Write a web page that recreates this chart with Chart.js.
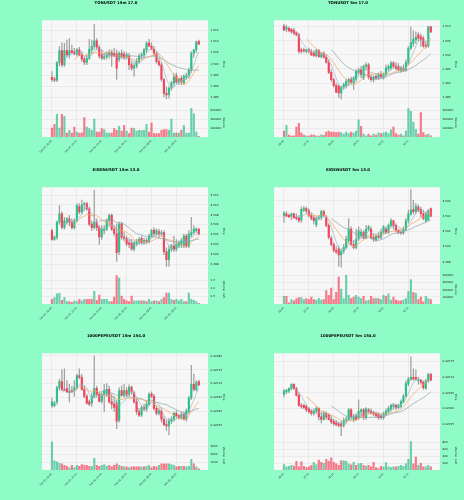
<!DOCTYPE html>
<html>
<head>
<meta charset="utf-8">
<script src="https://cdn.jsdelivr.net/npm/chart.js@4.4.1/dist/chart.umd.min.js"></script>
<style>
html, body { margin: 0; padding: 0; background: #8ffcc8; }
body { width: 464px; height: 500px; position: relative; overflow: hidden; }
canvas { position: absolute; }
</style>
</head>
<body>
<script>
// x tick labels (every 10th candle)
const xTickIdx = [0, 10, 20, 30, 40, 50];
const labels15m = ['Dec 01, 20:45', 'Dec 01, 23:15', 'Dec 02, 01:45', 'Dec 02, 04:15', 'Dec 02, 06:45', 'Dec 02, 09:15'];
const labels5m = ['06:45', '07:35', '08:25', '09:15', '10:05', '10:55'];

// TONUSDT 15m
const tonM15Open = [1.4940,1.4932,1.4927,1.5006,1.5059,1.4996,1.5059,1.5040,1.5059,1.5053,1.5044,1.5062,1.5040,1.5021,1.5006,1.5025,1.5062,1.5077,1.5103,1.5074,1.5040,1.5025,1.5032,1.5040,1.5050,1.5047,1.5044,1.5021,1.5047,1.5044,1.5029,1.5035,1.4996,1.4981,1.4991,1.5010,1.5035,1.5040,1.5062,1.5094,1.5079,1.5065,1.5044,1.5010,1.4996,1.4930,1.4868,1.4863,1.4891,1.4915,1.4947,1.4918,1.4935,1.4915,1.4941,1.4947,1.4971,1.5047,1.5062,1.5100];
const tonM15High = [1.4966,1.4941,1.5010,1.5077,1.5094,1.5091,1.5106,1.5113,1.5084,1.5069,1.5069,1.5074,1.5054,1.5032,1.5040,1.5109,1.5106,1.5176,1.5113,1.5084,1.5062,1.5047,1.5054,1.5062,1.5062,1.5069,1.5062,1.5054,1.5062,1.5054,1.5050,1.5047,1.5010,1.5003,1.5025,1.5044,1.5050,1.5069,1.5099,1.5109,1.5094,1.5077,1.5054,1.5025,1.5006,1.4937,1.4897,1.4900,1.4922,1.4956,1.4959,1.4937,1.4947,1.4952,1.4959,1.4981,1.5054,1.5065,1.5103,1.5106];
const tonM15Low = [1.4922,1.4921,1.4921,1.4991,1.4988,1.4988,1.5032,1.5025,1.5047,1.5040,1.5035,1.5035,1.5010,1.4996,1.4996,1.5018,1.5047,1.5065,1.5062,1.5025,1.5018,1.5018,1.5021,1.5025,1.4988,1.5032,1.4930,1.5010,1.5025,1.5018,1.5021,1.4974,1.4971,1.4944,1.4981,1.5003,1.5021,1.5032,1.5050,1.5077,1.5062,1.5035,1.5003,1.4988,1.4922,1.4853,1.4844,1.4847,1.4882,1.4903,1.4912,1.4907,1.4907,1.4907,1.4930,1.4937,1.4962,1.5029,1.5050,1.5085];
const tonM15Close = [1.4930,1.4927,1.5006,1.5059,1.4996,1.5059,1.5040,1.5059,1.5050,1.5044,1.5062,1.5040,1.5021,1.5006,1.5025,1.5065,1.5077,1.5103,1.5074,1.5035,1.5025,1.5032,1.5040,1.5050,1.5035,1.5035,1.4981,1.5047,1.5032,1.5029,1.5040,1.4996,1.4981,1.4991,1.5010,1.5035,1.5040,1.5062,1.5091,1.5079,1.5065,1.5047,1.5010,1.4996,1.4930,1.4868,1.4862,1.4891,1.4915,1.4941,1.4918,1.4932,1.4918,1.4944,1.4947,1.4971,1.5047,1.5062,1.5097,1.5088];
const tonM15Vol = [200000,281000,503000,200000,503000,459000,89000,148000,89000,222000,111000,89000,89000,430000,222000,185000,148000,400000,111000,111000,185000,163000,89000,89000,89000,185000,148000,237000,133000,259000,133000,74000,200000,185000,133000,148000,148000,148000,281000,111000,311000,74000,74000,74000,148000,163000,163000,148000,400000,89000,89000,89000,148000,252000,89000,89000,640000,518000,111000,15000];
const tonM15PriceTicks = [1.485, 1.490, 1.495, 1.500, 1.505, 1.510, 1.515];
const tonM15VolTicks = [200000, 400000, 600000];

// TONUSDT 5m
const tonM5Open = [1.5102,1.5091,1.5094,1.5091,1.5088,1.5079,1.5071,1.5018,1.5018,1.5012,1.5018,1.5012,1.5006,1.4997,1.5015,1.4994,1.5006,1.4992,1.4973,1.4938,1.4912,1.4891,1.4889,1.4865,1.4886,1.4891,1.4903,1.4912,1.4900,1.4914,1.4938,1.4947,1.4918,1.4959,1.4965,1.4921,1.4912,1.4924,1.4918,1.4930,1.4921,1.4930,1.4950,1.4953,1.4971,1.4961,1.4959,1.4945,1.4953,1.4947,1.4971,1.5024,1.5041,1.5053,1.5071,1.5065,1.5059,1.5035,1.5032,1.5100];
const tonM5High = [1.5109,1.5106,1.5100,1.5094,1.5094,1.5082,1.5077,1.5024,1.5024,1.5020,1.5024,1.5020,1.5015,1.5020,1.5020,1.5009,1.5012,1.5000,1.4983,1.4947,1.4918,1.4900,1.4895,1.4889,1.4900,1.4914,1.4918,1.4921,1.4924,1.4947,1.4953,1.4959,1.4965,1.4973,1.4971,1.4930,1.4926,1.4933,1.4936,1.4942,1.4936,1.4965,1.4965,1.4977,1.4977,1.4973,1.4969,1.4959,1.4965,1.4983,1.5030,1.5100,1.5086,1.5082,1.5079,1.5074,1.5067,1.5047,1.5102,1.5102];
const tonM5Low = [1.5086,1.5082,1.5082,1.5077,1.5071,1.5067,1.5006,1.5006,1.5009,1.5006,1.5006,1.4997,1.4994,1.4992,1.4992,1.4988,1.4988,1.4971,1.4933,1.4906,1.4886,1.4865,1.4848,1.4844,1.4877,1.4883,1.4891,1.4895,1.4877,1.4906,1.4930,1.4918,1.4912,1.4947,1.4914,1.4906,1.4903,1.4912,1.4912,1.4918,1.4914,1.4924,1.4942,1.4947,1.4953,1.4947,1.4942,1.4938,1.4942,1.4942,1.4965,1.5018,1.5030,1.5041,1.5051,1.5030,1.5027,1.5024,1.5027,1.5079];
const tonM5Close = [1.5088,1.5098,1.5086,1.5082,1.5077,1.5071,1.5012,1.5012,1.5014,1.5018,1.5012,1.5000,1.4997,1.5015,1.4994,1.5004,1.4992,1.4973,1.4938,1.4912,1.4891,1.4868,1.4865,1.4886,1.4895,1.4906,1.4912,1.4903,1.4918,1.4942,1.4947,1.4930,1.4959,1.4965,1.4921,1.4912,1.4921,1.4918,1.4930,1.4921,1.4933,1.4953,1.4959,1.4971,1.4959,1.4953,1.4947,1.4953,1.4945,1.4973,1.5024,1.5044,1.5055,1.5062,1.5059,1.5053,1.5032,1.5030,1.5100,1.5082];
const tonM5Vol = [68000,132000,21000,11000,14000,111000,154000,46000,21000,14000,11000,25000,21000,14000,11000,25000,18000,57000,68000,57000,57000,50000,57000,50000,32000,57000,39000,57000,43000,68000,193000,121000,32000,14000,32000,14000,32000,21000,46000,39000,46000,57000,39000,82000,111000,39000,21000,32000,14000,68000,321000,289000,168000,86000,32000,275000,50000,21000,32000,14000];
const tonM5PriceTicks = [1.485, 1.490, 1.495, 1.500, 1.505, 1.510];
const tonM5VolTicks = [100000, 200000, 300000];

// EIGENUSDT 15m
const eigenM15Open = [3.5048,3.5030,3.5034,3.5065,3.5082,3.5054,3.5065,3.5072,3.5065,3.5054,3.5068,3.5097,3.5086,3.5101,3.5103,3.5092,3.5061,3.5054,3.5065,3.5054,3.5035,3.5048,3.5051,3.5068,3.5079,3.5051,3.5042,3.5005,3.5061,3.5035,3.5032,3.5023,3.5023,3.5010,3.5021,3.5025,3.5032,3.5023,3.5028,3.5025,3.5037,3.5049,3.5041,3.5046,3.5041,3.5044,3.5005,3.4989,3.5010,3.5017,3.5010,3.5017,3.5020,3.5017,3.5037,3.5017,3.5039,3.5044,3.5048,3.5051];
const eigenM15High = [3.5051,3.5037,3.5068,3.5099,3.5086,3.5075,3.5075,3.5079,3.5072,3.5072,3.5103,3.5103,3.5110,3.5106,3.5106,3.5096,3.5068,3.5130,3.5072,3.5058,3.5058,3.5058,3.5072,3.5082,3.5082,3.5058,3.5061,3.5065,3.5065,3.5044,3.5037,3.5030,3.5030,3.5027,3.5030,3.5034,3.5037,3.5032,3.5032,3.5041,3.5051,3.5054,3.5051,3.5051,3.5048,3.5048,3.5013,3.5017,3.5020,3.5037,3.5030,3.5027,3.5032,3.5041,3.5041,3.5048,3.5075,3.5058,3.5054,3.5052];
const eigenM15Low = [3.5028,3.5028,3.5030,3.5061,3.5051,3.5051,3.5061,3.5058,3.5051,3.5051,3.5065,3.5082,3.5082,3.5089,3.5089,3.5058,3.5048,3.5051,3.5048,3.5020,3.5030,3.5041,3.5048,3.5058,3.5048,3.5037,3.4985,3.4999,3.5030,3.5027,3.5017,3.5013,3.5008,3.5006,3.5017,3.5020,3.5020,3.5020,3.5021,3.5023,3.5034,3.5037,3.5037,3.5034,3.5037,3.4999,3.4975,3.4975,3.5005,3.5006,3.5006,3.5013,3.5013,3.5013,3.5013,3.5013,3.5035,3.5041,3.5044,3.5039];
const eigenM15Close = [3.5030,3.5035,3.5065,3.5082,3.5054,3.5068,3.5072,3.5065,3.5054,3.5068,3.5099,3.5086,3.5101,3.5103,3.5092,3.5061,3.5054,3.5065,3.5054,3.5035,3.5051,3.5051,3.5068,3.5079,3.5051,3.5042,3.5003,3.5061,3.5034,3.5032,3.5021,3.5020,3.5010,3.5023,3.5025,3.5030,3.5023,3.5028,3.5025,3.5037,3.5048,3.5042,3.5048,3.5041,3.5044,3.5005,3.4989,3.5010,3.5017,3.5010,3.5020,3.5023,3.5027,3.5037,3.5017,3.5041,3.5044,3.5051,3.5051,3.5041];
const eigenM15Vol = [30000,40000,64000,70000,24000,40000,16000,16000,10000,20000,16000,30000,20000,30000,30000,30000,30000,80000,24000,56000,30000,30000,30000,16000,16000,44000,180000,164000,50000,30000,20000,16000,50000,20000,20000,20000,20000,20000,16000,30000,16000,20000,20000,16000,30000,40000,70000,70000,30000,24000,30000,20000,30000,16000,16000,70000,30000,24000,16000,4000];
const eigenM15PriceTicks = [3.498, 3.500, 3.502, 3.504, 3.506, 3.508, 3.510, 3.512];
const eigenM15VolTicks = [50000, 100000, 150000];

// EIGENUSDT 5m
const eigenM5Open = [3.5041,3.5043,3.5041,3.5040,3.5043,3.5039,3.5038,3.5035,3.5048,3.5050,3.5047,3.5041,3.5038,3.5029,3.5037,3.5038,3.5046,3.5039,3.5028,3.5011,3.5003,3.4995,3.4997,3.4989,3.4994,3.4999,3.5008,3.5023,3.5003,3.4999,3.5010,3.5014,3.5019,3.5011,3.5023,3.5023,3.5012,3.5009,3.5014,3.5012,3.5019,3.5023,3.5019,3.5028,3.5034,3.5028,3.5021,3.5019,3.5018,3.5023,3.5034,3.5043,3.5049,3.5046,3.5052,3.5049,3.5043,3.5034,3.5035,3.5050];
const eigenM5High = [3.5046,3.5046,3.5043,3.5044,3.5044,3.5043,3.5041,3.5052,3.5053,3.5052,3.5050,3.5044,3.5040,3.5039,3.5041,3.5048,3.5048,3.5041,3.5030,3.5014,3.5005,3.5000,3.5001,3.4997,3.5003,3.5014,3.5037,3.5026,3.5008,3.5023,3.5026,3.5023,3.5021,3.5028,3.5028,3.5026,3.5017,3.5016,3.5019,3.5023,3.5028,3.5026,3.5030,3.5037,3.5035,3.5030,3.5023,3.5021,3.5026,3.5037,3.5048,3.5075,3.5061,3.5057,3.5055,3.5052,3.5048,3.5046,3.5049,3.5051];
const eigenM5Low = [3.5032,3.5039,3.5038,3.5035,3.5037,3.5035,3.5032,3.5032,3.5046,3.5044,3.5039,3.5035,3.5030,3.5026,3.5035,3.5035,3.5039,3.5026,3.5010,3.5001,3.4993,3.4991,3.4974,3.4973,3.4991,3.4997,3.5005,3.5001,3.4997,3.4997,3.5008,3.5012,3.5010,3.5010,3.5021,3.5010,3.5007,3.5007,3.5010,3.5010,3.5017,3.5017,3.5017,3.5026,3.5023,3.5019,3.5017,3.5016,3.5016,3.5021,3.5031,3.5041,3.5043,3.5043,3.5046,3.5039,3.5035,3.5032,3.5034,3.5039];
const eigenM5Close = [3.5044,3.5040,3.5039,3.5043,3.5038,3.5037,3.5034,3.5049,3.5050,3.5047,3.5041,3.5037,3.5034,3.5037,3.5039,3.5046,3.5041,3.5028,3.5012,3.5003,3.4995,3.4993,3.4989,3.4994,3.4999,3.5010,3.5023,3.5003,3.4999,3.5010,3.5021,3.5019,3.5011,3.5023,3.5026,3.5012,3.5010,3.5014,3.5012,3.5019,3.5026,3.5019,3.5028,3.5034,3.5028,3.5021,3.5019,3.5018,3.5023,3.5034,3.5043,3.5048,3.5046,3.5053,3.5048,3.5043,3.5037,3.5043,3.5047,3.5040];
const eigenM5Vol = [107000,107000,18000,63000,45000,76000,90000,90000,63000,76000,63000,99000,63000,54000,81000,54000,63000,188000,121000,224000,63000,166000,381000,210000,76000,405000,121000,76000,99000,121000,99000,76000,107000,45000,54000,107000,76000,76000,76000,63000,121000,107000,143000,54000,99000,54000,45000,45000,54000,76000,179000,345000,166000,152000,63000,99000,31000,107000,76000,63000];
const eigenM5PriceTicks = [3.498, 3.500, 3.502, 3.504, 3.506];
const eigenM5VolTicks = [100000, 200000, 300000, 400000];

// 1000PEPEUSDT 15m
const pepeM15Open = [0.021622,0.021622,0.021635,0.021686,0.021708,0.021680,0.021684,0.021668,0.021676,0.021674,0.021686,0.021729,0.021723,0.021680,0.021655,0.021635,0.021631,0.021655,0.021684,0.021662,0.021637,0.021662,0.021662,0.021680,0.021635,0.021627,0.021631,0.021570,0.021676,0.021659,0.021676,0.021662,0.021688,0.021668,0.021635,0.021600,0.021588,0.021615,0.021610,0.021627,0.021664,0.021655,0.021612,0.021594,0.021603,0.021573,0.021554,0.021549,0.021566,0.021573,0.021594,0.021586,0.021578,0.021590,0.021573,0.021600,0.021649,0.021698,0.021680,0.021708];
const pepeM15High = [0.021649,0.021637,0.021692,0.021717,0.021750,0.021753,0.021711,0.021698,0.021692,0.021711,0.021735,0.021753,0.021735,0.021692,0.021662,0.021643,0.021668,0.021799,0.021692,0.021671,0.021668,0.021698,0.021701,0.021692,0.021662,0.021655,0.021643,0.021686,0.021692,0.021698,0.021686,0.021696,0.021692,0.021674,0.021649,0.021612,0.021622,0.021627,0.021637,0.021668,0.021671,0.021662,0.021622,0.021612,0.021610,0.021582,0.021570,0.021576,0.021582,0.021600,0.021603,0.021590,0.021600,0.021600,0.021610,0.021655,0.021766,0.021735,0.021711,0.021713];
const pepeM15Low = [0.021615,0.021617,0.021627,0.021676,0.021674,0.021674,0.021668,0.021635,0.021668,0.021655,0.021680,0.021717,0.021676,0.021649,0.021627,0.021622,0.021619,0.021649,0.021655,0.021635,0.021631,0.021600,0.021655,0.021631,0.021610,0.021600,0.021539,0.021563,0.021655,0.021652,0.021655,0.021655,0.021662,0.021631,0.021590,0.021582,0.021582,0.021603,0.021600,0.021622,0.021649,0.021606,0.021588,0.021588,0.021563,0.021549,0.021533,0.021517,0.021557,0.021566,0.021578,0.021573,0.021573,0.021570,0.021566,0.021594,0.021643,0.021674,0.021674,0.021692];
const pepeM15Close = [0.021635,0.021631,0.021686,0.021708,0.021680,0.021676,0.021671,0.021674,0.021671,0.021686,0.021729,0.021723,0.021680,0.021655,0.021631,0.021627,0.021655,0.021684,0.021662,0.021637,0.021662,0.021676,0.021680,0.021635,0.021627,0.021615,0.021566,0.021676,0.021659,0.021676,0.021662,0.021688,0.021671,0.021635,0.021600,0.021588,0.021615,0.021610,0.021627,0.021662,0.021655,0.021612,0.021594,0.021603,0.021573,0.021554,0.021549,0.021566,0.021573,0.021594,0.021586,0.021578,0.021590,0.021573,0.021603,0.021649,0.021698,0.021680,0.021704,0.021696];
const pepeM15Vol = [3580000,1170000,1050000,860000,780000,580000,470000,310000,580000,310000,580000,470000,700000,580000,580000,470000,470000,1480000,580000,470000,580000,700000,470000,580000,390000,580000,780000,580000,470000,390000,390000,310000,390000,390000,390000,390000,390000,390000,470000,580000,310000,470000,390000,580000,780000,780000,780000,780000,700000,580000,390000,470000,470000,470000,390000,470000,1360000,780000,390000,160000];
const pepeM15PriceTicks = [0.02155, 0.02160, 0.02165, 0.02170, 0.02175, 0.02180];
const pepeM15VolTicks = [1000000, 2000000, 3000000];

// 1000PEPEUSDT 5m
const pepeM5Open = [0.021645,0.021653,0.021655,0.021664,0.021677,0.021664,0.021642,0.021610,0.021610,0.021607,0.021599,0.021592,0.021585,0.021590,0.021601,0.021574,0.021566,0.021585,0.021579,0.021566,0.021560,0.021555,0.021552,0.021552,0.021547,0.021563,0.021566,0.021596,0.021566,0.021577,0.021571,0.021590,0.021596,0.021571,0.021596,0.021592,0.021588,0.021585,0.021582,0.021577,0.021571,0.021582,0.021590,0.021599,0.021607,0.021610,0.021603,0.021607,0.021621,0.021639,0.021677,0.021693,0.021699,0.021699,0.021688,0.021690,0.021683,0.021664,0.021688,0.021708];
const pepeM5High = [0.021661,0.021661,0.021666,0.021679,0.021679,0.021668,0.021650,0.021617,0.021614,0.021612,0.021603,0.021596,0.021599,0.021607,0.021603,0.021590,0.021592,0.021590,0.021585,0.021579,0.021566,0.021563,0.021558,0.021560,0.021571,0.021574,0.021601,0.021601,0.021582,0.021585,0.021628,0.021599,0.021601,0.021603,0.021601,0.021599,0.021592,0.021590,0.021588,0.021582,0.021590,0.021599,0.021607,0.021614,0.021617,0.021614,0.021614,0.021628,0.021645,0.021688,0.021699,0.021764,0.021726,0.021723,0.021699,0.021693,0.021688,0.021693,0.021712,0.021712];
const pepeM5Low = [0.021636,0.021647,0.021650,0.021658,0.021661,0.021639,0.021607,0.021601,0.021599,0.021590,0.021585,0.021579,0.021579,0.021585,0.021563,0.021555,0.021563,0.021566,0.021563,0.021552,0.021547,0.021545,0.021541,0.021514,0.021541,0.021555,0.021563,0.021566,0.021558,0.021563,0.021566,0.021574,0.021566,0.021566,0.021585,0.021582,0.021577,0.021571,0.021566,0.021566,0.021566,0.021577,0.021588,0.021592,0.021599,0.021596,0.021599,0.021603,0.021617,0.021636,0.021672,0.021688,0.021690,0.021688,0.021677,0.021677,0.021661,0.021661,0.021683,0.021688];
const pepeM5Close = [0.021655,0.021658,0.021664,0.021677,0.021664,0.021642,0.021610,0.021607,0.021603,0.021596,0.021590,0.021585,0.021592,0.021601,0.021574,0.021566,0.021585,0.021574,0.021566,0.021558,0.021552,0.021549,0.021547,0.021545,0.021563,0.021566,0.021596,0.021574,0.021577,0.021566,0.021592,0.021596,0.021574,0.021599,0.021590,0.021585,0.021582,0.021577,0.021571,0.021571,0.021585,0.021592,0.021601,0.021610,0.021612,0.021603,0.021610,0.021623,0.021639,0.021679,0.021693,0.021699,0.021693,0.021693,0.021690,0.021683,0.021666,0.021688,0.021708,0.021690];
const pepeM5Vol = [160000,89000,107000,133000,107000,249000,89000,240000,107000,71000,89000,133000,222000,160000,284000,222000,196000,311000,249000,356000,222000,178000,133000,267000,267000,249000,178000,151000,222000,133000,178000,196000,133000,107000,133000,89000,222000,71000,44000,107000,89000,213000,89000,71000,89000,89000,107000,133000,107000,178000,311000,820000,178000,373000,133000,196000,89000,89000,133000,89000];
const pepeM5PriceTicks = [0.02155, 0.02160, 0.02165, 0.02170, 0.02175];
const pepeM5VolTicks = [200000, 400000, 600000, 800000];

const UP = '#2ebf8a';
const DOWN = '#f4435a';
const UP_VOL = 'rgba(46,191,138,0.7)';
const DOWN_VOL = 'rgba(244,67,90,0.7)';
const WICK = '#a0a0a0';
const GRID = '#e2e2e2';
const MA_LENGTHS = [5, 10, 20];
const MA_COLORS = ['#9db6cb', '#f2a55a', '#86a3a6'];
const X_MIN = -4;
const X_MAX = 62.7;

const panels = [
    {title: 'TONUSDT 15m 17.0', open: tonM15Open, high: tonM15High, low: tonM15Low, close: tonM15Close, vol: tonM15Vol,
     xLabels: labels15m, yTicks: tonM15PriceTicks, yMin: 1.4804, yMax: 1.5194, yDec: 3,
     vTicks: tonM15VolTicks, vMax: 650000, vDiv: 1, vDec: 0, vTitle: 'Volume'},
    {title: 'TONUSDT 5m 17.0', open: tonM5Open, high: tonM5High, low: tonM5Low, close: tonM5Close, vol: tonM5Vol,
     xLabels: labels5m, yTicks: tonM5PriceTicks, yMin: 1.4812, yMax: 1.5123, yDec: 3,
     vTicks: tonM5VolTicks, vMax: 330000, vDiv: 1, vDec: 0, vTitle: 'Volume'},
    {title: 'EIGENUSDT 15m 13.0', open: eigenM15Open, high: eigenM15High, low: eigenM15Low, close: eigenM15Close, vol: eigenM15Vol,
     xLabels: labels15m, yTicks: eigenM15PriceTicks, yMin: 3.4958, yMax: 3.5136, yDec: 3,
     vTicks: eigenM15VolTicks, vMax: 185000, vDiv: 1e5, vDec: 1, vTitle: 'Volume  1e5'},
    {title: 'EIGENUSDT 5m 13.0', open: eigenM5Open, high: eigenM5High, low: eigenM5Low, close: eigenM5Close, vol: eigenM5Vol,
     xLabels: labels5m, yTicks: eigenM5PriceTicks, yMin: 3.4963, yMax: 3.5078, yDec: 3,
     vTicks: eigenM5VolTicks, vMax: 412000, vDiv: 1, vDec: 0, vTitle: 'Volume'},
    {title: '1000PEPEUSDT 15m 154.0', open: pepeM15Open, high: pepeM15High, low: pepeM15Low, close: pepeM15Close, vol: pepeM15Vol,
     xLabels: labels15m, yTicks: pepeM15PriceTicks, yMin: 0.021496, yMax: 0.021809, yDec: 5,
     vTicks: pepeM15VolTicks, vMax: 3700000, vDiv: 1e3, vDec: 0, vTitle: 'Volume  1e3'},
    {title: '1000PEPEUSDT 5m 154.0', open: pepeM5Open, high: pepeM5High, low: pepeM5Low, close: pepeM5Close, vol: pepeM5Vol,
     xLabels: labels5m, yTicks: pepeM5PriceTicks, yMin: 0.021498, yMax: 0.021775, yDec: 5,
     vTicks: pepeM5VolTicks, vMax: 845000, vDiv: 1e3, vDec: 0, vTitle: 'Volume  1e3'}
];

const movingAverage = (values, n) =>
    values.map((_, i) => i < n - 1 ? null : values.slice(i - n + 1, i + 1).reduce((a, b) => a + b, 0) / n);

const fixedTicks = (values) => (scale) => { scale.ticks = values.map(v => ({value: v})); };

// light panel behind the plot area
const plotBg = {
    id: 'plotBg',
    beforeDraw(chart) {
        const {ctx, chartArea: a} = chart;
        ctx.save();
        ctx.fillStyle = '#f7f7f7';
        ctx.fillRect(a.left, a.top, a.width, a.height);
        ctx.restore();
    }
};

Chart.defaults.font.family = "'DejaVu Sans', sans-serif";
Chart.defaults.color = '#222';

const blankAxis = (position, width) => ({
    type: 'linear', position, display: true,
    afterFit: (s) => { s.width = width; },
    ticks: {display: false}, grid: {display: false}, border: {display: false}
});

panels.forEach((p, k) => {
    const cv = document.createElement('canvas');
    cv.width = 232;
    cv.height = 167;
    cv.style.left = (k % 2) * 232 + 'px';
    cv.style.top = Math.round(Math.floor(k / 2) * 166.67) + 'px';
    document.body.appendChild(cv);

    const up = p.close.map((c, i) => c >= p.open[i]);
    const lines = MA_LENGTHS.map((n, j) => ({
        type: 'line',
        data: movingAverage(p.close, n).map((y, i) => ({x: i, y})),
        borderColor: MA_COLORS[j], borderWidth: 0.7, pointRadius: 0, tension: 0,
        xAxisID: 'x', yAxisID: 'y', order: 0
    }));

    new Chart(cv.getContext('2d'), {
        type: 'bar',
        data: {
            datasets: [
                ...lines,
                {
                    data: p.open.map((o, i) => ({x: i, y: [o, p.close[i]]})),
                    backgroundColor: up.map(u => u ? UP : DOWN),
                    barThickness: 1.5, minBarLength: 0.6, grouped: false,
                    xAxisID: 'x', yAxisID: 'y', order: 1
                },
                {
                    data: p.low.map((l, i) => ({x: i, y: [l, p.high[i]]})),
                    backgroundColor: WICK,
                    barThickness: 0.6, grouped: false,
                    xAxisID: 'x', yAxisID: 'y', order: 2
                },
                {
                    data: p.vol.map((v, i) => ({x: i, y: v})),
                    backgroundColor: up.map(u => u ? UP_VOL : DOWN_VOL),
                    barThickness: 1.5, grouped: false,
                    xAxisID: 'x', yAxisID: 'v', order: 3
                }
            ]
        },
        options: {
            responsive: false,
            animation: false,
            devicePixelRatio: 1,
            events: [],
            layout: {padding: 0},
            plugins: {
                legend: {display: false},
                tooltip: {enabled: false},
                title: {
                    display: true, text: p.title, color: '#000',
                    font: {size: 3.9, weight: 'bold'},
                    padding: {top: 1, bottom: 14.6}
                }
            },
            scales: {
                x: {
                    type: 'linear', min: X_MIN, max: X_MAX, offset: false,
                    afterBuildTicks: fixedTicks(xTickIdx),
                    afterFit: (s) => { s.height = 30; },
                    ticks: {
                        autoSkip: false, minRotation: 45, maxRotation: 45,
                        font: {size: 2.4}, padding: 1,
                        callback: (v, i) => p.xLabels[i]
                    },
                    grid: {color: GRID, lineWidth: 0.6, tickLength: 1.5, offset: false},
                    border: {display: false}
                },
                padL: blankAxis('left', 42),
                y: {
                    type: 'linear', position: 'right', stack: 'main', stackWeight: 3,
                    min: p.yMin, max: p.yMax,
                    afterBuildTicks: fixedTicks(p.yTicks),
                    afterFit: (s) => { s.width = 17; },
                    ticks: {font: {size: 2.8}, padding: 1, callback: (v) => v.toFixed(p.yDec)},
                    grid: {color: GRID, lineWidth: 0.6, tickLength: 1.5},
                    border: {display: false},
                    title: {display: true, text: 'Price', font: {size: 2.8}, padding: 0}
                },
                v: {
                    type: 'linear', position: 'right', stack: 'main', stackWeight: 1,
                    min: 0, max: p.vMax,
                    afterBuildTicks: fixedTicks(p.vTicks),
                    afterFit: (s) => { s.width = 17; },
                    ticks: {font: {size: 2.8}, padding: 1, callback: (v) => (v / p.vDiv).toFixed(p.vDec)},
                    grid: {color: GRID, lineWidth: 0.6, tickLength: 1.5},
                    border: {display: false},
                    title: {display: true, text: p.vTitle, font: {size: 2.8}, padding: 0}
                },
                padR: blankAxis('right', 7)
            }
        },
        plugins: [plotBg]
    });
});
</script>
</body>
</html>
